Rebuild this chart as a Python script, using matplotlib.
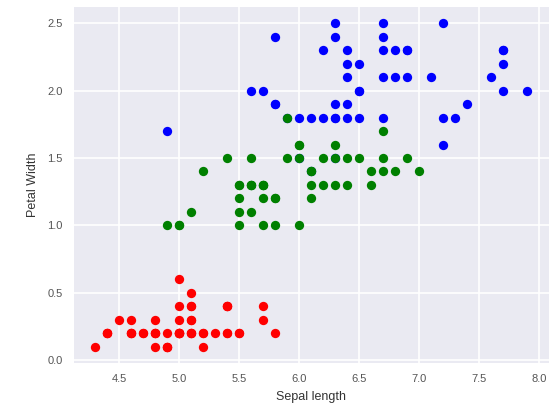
import numpy as np
import matplotlib
matplotlib.use('Agg')
import matplotlib.pyplot as plt

# iris: sepal length and petal width per species
setosa_sl = [5.1, 4.9, 4.7, 4.6, 5.0, 5.4, 4.6, 5.0, 4.4, 4.9, 5.4, 4.8, 4.8, 4.3, 5.8, 5.7, 5.4, 5.1, 5.7, 5.1,
             5.4, 5.1, 4.6, 5.1, 4.8, 5.0, 5.0, 5.2, 5.2, 4.7, 4.8, 5.4, 5.2, 5.5, 4.9, 5.0, 5.5, 4.9, 4.4, 5.1,
             5.0, 4.5, 4.4, 5.0, 5.1, 4.8, 5.1, 4.6, 5.3, 5.0]
setosa_pw = [0.2, 0.2, 0.2, 0.2, 0.2, 0.4, 0.3, 0.2, 0.2, 0.1, 0.2, 0.2, 0.1, 0.1, 0.2, 0.4, 0.4, 0.3, 0.3, 0.3,
             0.2, 0.4, 0.2, 0.5, 0.2, 0.2, 0.4, 0.2, 0.2, 0.2, 0.2, 0.4, 0.1, 0.2, 0.1, 0.2, 0.2, 0.1, 0.2, 0.2,
             0.3, 0.3, 0.2, 0.6, 0.4, 0.3, 0.2, 0.2, 0.2, 0.2]
versicolor_sl = [7.0, 6.4, 6.9, 5.5, 6.5, 5.7, 6.3, 4.9, 6.6, 5.2, 5.0, 5.9, 6.0, 6.1, 5.6, 6.7, 5.6, 5.8, 6.2, 5.6,
                 5.9, 6.1, 6.3, 6.1, 6.4, 6.6, 6.8, 6.7, 6.0, 5.7, 5.5, 5.5, 5.8, 6.0, 5.4, 6.0, 6.7, 6.3, 5.6, 5.5,
                 5.5, 6.1, 5.8, 5.0, 5.6, 5.7, 5.7, 6.2, 5.1, 5.7]
versicolor_pw = [1.4, 1.5, 1.5, 1.3, 1.5, 1.3, 1.6, 1.0, 1.3, 1.4, 1.0, 1.5, 1.0, 1.4, 1.3, 1.4, 1.5, 1.0, 1.5, 1.1,
                 1.8, 1.3, 1.5, 1.2, 1.3, 1.4, 1.4, 1.7, 1.5, 1.0, 1.1, 1.0, 1.2, 1.6, 1.5, 1.6, 1.5, 1.3, 1.3, 1.3,
                 1.2, 1.4, 1.2, 1.0, 1.3, 1.2, 1.3, 1.3, 1.1, 1.3]
virginica_sl = [6.3, 5.8, 7.1, 6.3, 6.5, 7.6, 4.9, 7.3, 6.7, 7.2, 6.5, 6.4, 6.8, 5.7, 5.8, 6.4, 6.5, 7.7, 7.7, 6.0,
                6.9, 5.6, 7.7, 6.3, 6.7, 7.2, 6.2, 6.1, 6.4, 7.2, 7.4, 7.9, 6.4, 6.3, 6.1, 7.7, 6.3, 6.4, 6.0, 6.9,
                6.7, 6.9, 5.8, 6.8, 6.7, 6.7, 6.3, 6.5, 6.2, 5.9]
virginica_pw = [2.5, 1.9, 2.1, 1.8, 2.2, 2.1, 1.7, 1.8, 1.8, 2.5, 2.0, 1.9, 2.1, 2.0, 2.4, 2.3, 1.8, 2.2, 2.3, 1.5,
                2.3, 2.0, 2.0, 1.8, 2.1, 1.8, 1.8, 1.8, 2.1, 1.6, 1.9, 2.0, 2.2, 1.5, 1.4, 2.3, 2.4, 1.8, 1.8, 2.1,
                2.4, 2.3, 1.9, 2.3, 2.5, 2.3, 1.9, 2.0, 2.3, 1.8]

plt.rcParams['font.family'] = ['Liberation Sans', 'DejaVu Sans']

fig = plt.figure(figsize=(5.55, 4.11), dpi=100)
ax = fig.add_axes([0.133, 0.117, 0.856, 0.866])
ax.set_facecolor('#EAEAF2')
for s in ax.spines.values():
    s.set_visible(False)
ax.grid(True, color='white', linewidth=1.2)
ax.set_axisbelow(True)

# blue first so green sits on top where they overlap
ax.scatter(virginica_sl, virginica_pw, c='blue', s=45, linewidths=0)
ax.scatter(versicolor_sl, versicolor_pw, c='green', s=45, linewidths=0)
ax.scatter(setosa_sl, setosa_pw, c='red', s=45, linewidths=0)

ax.set_xticks([4.5, 5.0, 5.5, 6.0, 6.5, 7.0, 7.5, 8.0])
ax.set_yticks([0.0, 0.5, 1.0, 1.5, 2.0, 2.5])
ax.tick_params(length=0, labelsize=8, labelcolor='#555555', pad=8)
ax.set_xlabel('Sepal length', fontsize=9, color='#333333', labelpad=5)
ax.set_ylabel('Petal Width', fontsize=9, color='#333333', labelpad=6)

fig.savefig('out.png', dpi=100)
